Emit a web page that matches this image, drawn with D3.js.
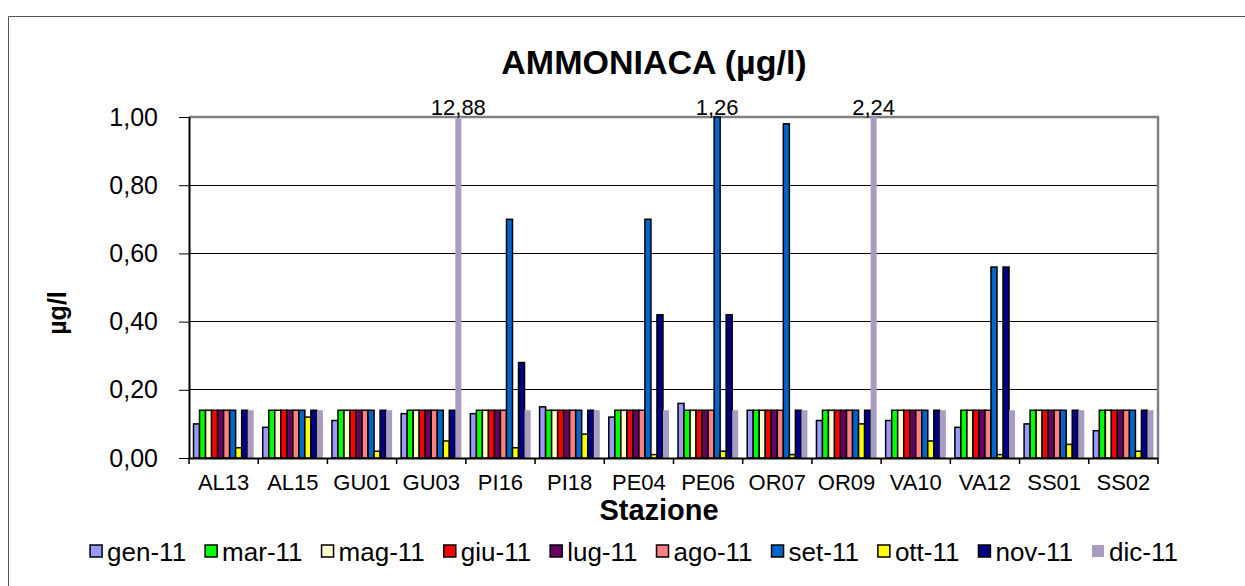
<!DOCTYPE html>
<html>
<head>
<meta charset="utf-8">
<script src="https://cdn.jsdelivr.net/npm/d3@7"></script>
<style>
  body { margin: 0; background: #fff; }
  svg { display: block; font-family: "Liberation Sans", Arial, sans-serif; }
</style>
</head>
<body>
<svg id="chart"></svg>
<script>
// stazioni e valori
const stations = ['AL13','AL15','GU01','GU03','PI16','PI18','PE04','PE06','OR07','OR09','VA10','VA12','SS01','SS02'];
const months = ['gen-11','mar-11','mag-11','giu-11','lug-11','ago-11','set-11','ott-11','nov-11','dic-11'];
const colors = ['#9999ff','#00ff00','#ffffcc','#ff0000','#660066','#ff8080','#0066cc','#ffff00','#000080','#aa9cc0'];

const gen = [0.10,0.09,0.11,0.13,0.13,0.15,0.12,0.16,0.14,0.11,0.11,0.09,0.10,0.08];
const mar = [0.14,0.14,0.14,0.14,0.14,0.14,0.14,0.14,0.14,0.14,0.14,0.14,0.14,0.14];
const mag = [0.14,0.14,0.14,0.14,0.14,0.14,0.14,0.14,0.14,0.14,0.14,0.14,0.14,0.14];
const giu = [0.14,0.14,0.14,0.14,0.14,0.14,0.14,0.14,0.14,0.14,0.14,0.14,0.14,0.14];
const lug = [0.14,0.14,0.14,0.14,0.14,0.14,0.14,0.14,0.14,0.14,0.14,0.14,0.14,0.14];
const ago = [0.14,0.14,0.14,0.14,0.14,0.14,0.14,0.14,0.14,0.14,0.14,0.14,0.14,0.14];
const set = [0.14,0.14,0.14,0.14,0.70,0.14,0.70,1.26,0.98,0.14,0.14,0.56,0.14,0.14];
const ott = [0.03,0.12,0.02,0.05,0.03,0.07,0.01,0.02,0.01,0.10,0.05,0.01,0.04,0.02];
const nov = [0.14,0.14,0.14,0.14,0.28,0.14,0.42,0.42,0.14,0.14,0.14,0.56,0.14,0.14];
const dic = [0.14,0.14,0.14,12.88,0.14,0.14,0.14,0.14,0.14,2.24,0.14,0.14,0.14,0.14];
const yTicks = [0, 0.2, 0.4, 0.6, 0.8, 1.0];

const series = [gen, mar, mag, giu, lug, ago, set, ott, nov, dic];

const width = 1245, height = 586;
const plot = {left: 189, right: 1158, top: 117, bottom: 458};
const yMax = 1;
const fmt = v => d3.format('.2f')(v).replace('.', ',');

const svg = d3.select('#chart')
    .attr('width', width)
    .attr('height', height);

// cornice esterna
svg.append('path')
    .attr('d', `M8.5,${height} V16.5 H${width}`)
    .attr('fill', 'none')
    .attr('stroke', '#555')
    .attr('stroke-width', 1);

let x = d3.scaleBand()
    .domain(stations)
    .range([plot.left, plot.right]);

let xs = d3.scaleBand()
    .domain(months)
    .range([0, x.bandwidth()])
    .paddingOuter(0.75);

let y = d3.scaleLinear()
    .domain([0, yMax])
    .range([plot.bottom, plot.top]);

// griglia
svg.append('g')
    .selectAll('line')
    .data(yTicks.filter(d => d > 0 && d < yMax))
    .enter()
    .append('line')
    .attr('x1', plot.left).attr('x2', plot.right)
    .attr('y1', d => y(d)).attr('y2', d => y(d))
    .attr('stroke', '#000')
    .attr('stroke-width', 1)
    .attr('shape-rendering', 'crispEdges');

// bordo area del grafico (alto e destra)
svg.append('path')
    .attr('d', `M${plot.left},${y(yMax)} H${plot.right} V${plot.bottom}`)
    .attr('fill', 'none')
    .attr('stroke', '#808080')
    .attr('stroke-width', 2.5);

// barre
let groups = svg.append('g')
    .selectAll('.serie')
    .data(series)
    .enter()
    .append('g')
    .classed('serie', true)
    .attr('fill', (d, i) => colors[i])
    .attr('stroke', (d, i) => i === 9 ? 'none' : '#000')
    .attr('stroke-width', 1.5);

groups.selectAll('rect')
    .data((d, i) => d.map((v, j) => ({v, station: stations[j], month: months[i]})))
    .enter()
    .append('rect')
    .attr('x', d => x(d.station) + xs(d.month))
    .attr('width', xs.bandwidth())
    .attr('y', d => y(Math.min(d.v, yMax)))
    .attr('height', d => y(0) - y(Math.min(d.v, yMax)));

// etichette dei valori fuori scala
let over = [];
series.forEach((s, i) => s.forEach((v, j) => {
    if (v > yMax) over.push({v, station: stations[j], month: months[i]});
}));
svg.append('g')
    .selectAll('text')
    .data(over)
    .enter()
    .append('text')
    .attr('x', d => x(d.station) + xs(d.month) + xs.bandwidth() / 2)
    .attr('y', y(yMax) - 2)
    .attr('text-anchor', 'middle')
    .attr('font-size', 22)
    .attr('fill', '#000')
    .text(d => fmt(d.v));

// asse y
let yAxis = svg.append('g')
    .attr('transform', `translate(${plot.left},0)`)
    .call(d3.axisLeft(y).tickValues(yTicks).tickFormat(fmt).tickSize(10).tickPadding(21).tickSizeOuter(0));
yAxis.select('.domain').attr('stroke', '#000').attr('stroke-width', 2);
yAxis.selectAll('.tick line').attr('stroke', '#000').attr('stroke-width', 1);
yAxis.selectAll('text').attr('font-size', 25).attr('fill', '#000').attr('font-family', null);

// asse x
let xAxis = svg.append('g')
    .attr('transform', `translate(0,${plot.bottom})`)
    .call(d3.axisBottom(x).tickSize(0).tickPadding(16).tickSizeOuter(0));
xAxis.select('.domain').attr('stroke', '#000').attr('stroke-width', 2);
xAxis.selectAll('text').attr('font-size', 22).attr('fill', '#000').attr('font-family', null);
xAxis.selectAll('.sep')
    .data(stations.map(s => x(s)).concat([plot.right]))
    .enter()
    .append('line')
    .classed('sep', true)
    .attr('x1', d => d).attr('x2', d => d)
    .attr('y1', 0).attr('y2', 6)
    .attr('stroke', '#000')
    .attr('stroke-width', 1.5);

// titoli
svg.append('text')
    .attr('x', 654).attr('y', 74)
    .attr('text-anchor', 'middle')
    .attr('font-size', 34)
    .attr('font-weight', 'bold')
    .text('AMMONIACA (µg/l)');

svg.append('text')
    .attr('x', 659).attr('y', 520)
    .attr('text-anchor', 'middle')
    .attr('font-size', 29)
    .attr('font-weight', 'bold')
    .text('Stazione');

svg.append('text')
    .attr('transform', 'translate(66,313) rotate(-90)')
    .attr('text-anchor', 'middle')
    .attr('font-size', 25)
    .attr('font-weight', 'bold')
    .text('µg/l');

// legenda
let legend = svg.append('g');
let items = legend.selectAll('.item')
    .data(months)
    .enter()
    .append('g')
    .classed('item', true);
items.append('rect')
    .attr('width', 12).attr('height', 12)
    .attr('y', -16)
    .attr('fill', (d, i) => colors[i])
    .attr('stroke', (d, i) => i === 9 ? 'none' : '#000')
    .attr('stroke-width', 1.5);
items.append('text')
    .attr('x', 17)
    .attr('font-size', 26)
    .text(d => d);

const gap = 19;
let pos = 0;
items.each(function () {
    d3.select(this).attr('transform', `translate(${pos},561)`);
    pos += this.getBBox().width + gap;
});
legend.attr('transform', `translate(${634 - (pos - gap) / 2},0)`);
</script>
</body>
</html>
